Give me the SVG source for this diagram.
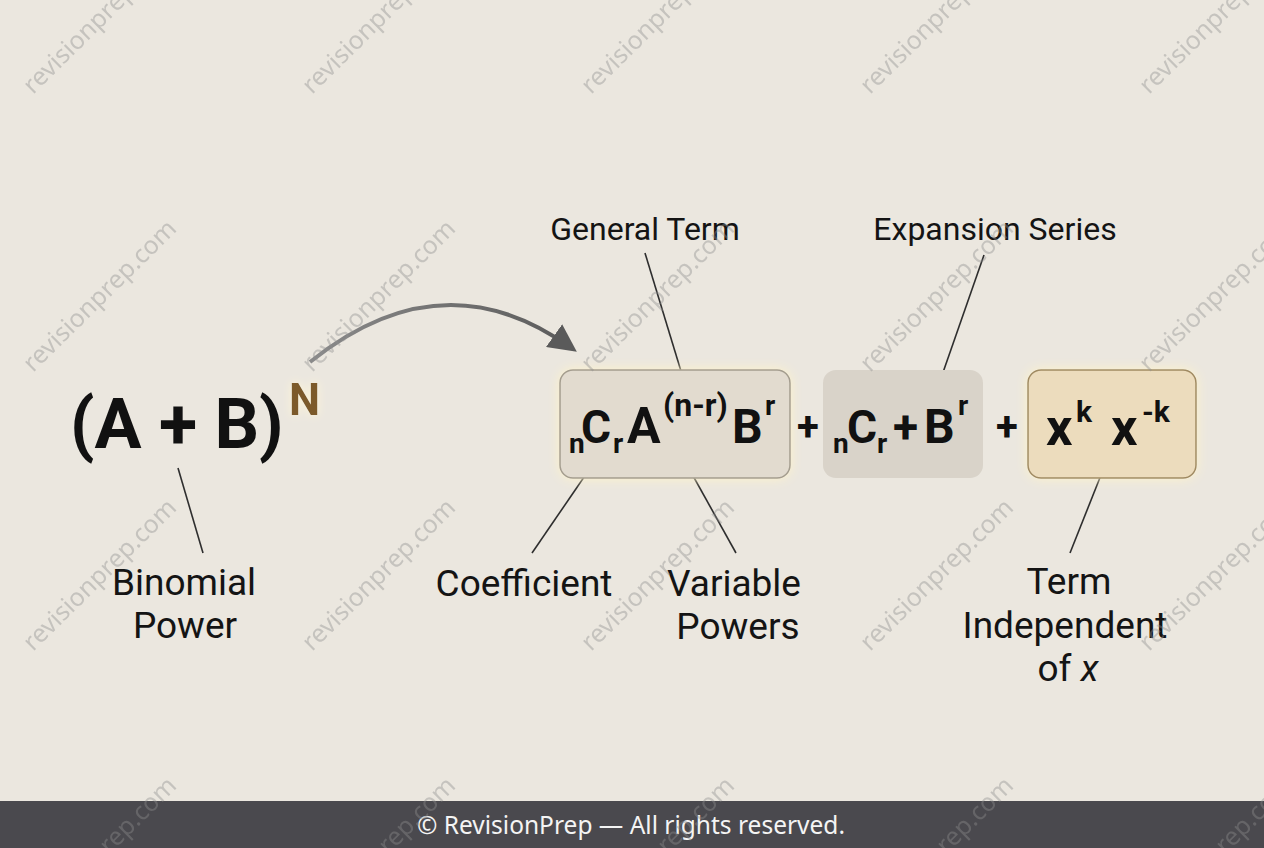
<svg xmlns="http://www.w3.org/2000/svg" width="1264" height="848" viewBox="0 0 1264 848">
<defs>
<style>
.lbl{font-family:Roboto,"Liberation Sans",sans-serif;font-size:37px;fill:#141414;text-anchor:middle}
.top{font-size:32px}
.m{font-family:Roboto,"Liberation Sans",sans-serif;font-weight:700;fill:#111}
.wm{font-family:"Noto Sans","Open Sans",sans-serif;font-size:25px;fill:#8e8e8e;opacity:0.4}
.lead{stroke:#2e2e2e;stroke-width:1.6;fill:none}
</style>
<filter id="glow" x="-20%" y="-30%" width="140%" height="160%">
<feGaussianBlur in="SourceAlpha" stdDeviation="6" result="b"/>
<feFlood flood-color="#fff3c8" flood-opacity="0.95"/>
<feComposite in2="b" operator="in" result="g"/>
<feMerge><feMergeNode in="g"/><feMergeNode in="SourceGraphic"/></feMerge>
</filter>
<filter id="glowN" x="-60%" y="-60%" width="220%" height="220%">
<feGaussianBlur in="SourceAlpha" stdDeviation="5" result="b"/>
<feFlood flood-color="#fff6d6" flood-opacity="1"/>
<feComposite in2="b" operator="in" result="g"/>
<feMerge><feMergeNode in="g"/><feMergeNode in="SourceGraphic"/></feMerge>
</filter>
<linearGradient id="arrG" x1="312" y1="0" x2="577" y2="0" gradientUnits="userSpaceOnUse">
<stop offset="0" stop-color="#8a8a8a"/>
<stop offset="1" stop-color="#5a5a5a"/>
</linearGradient>
<marker id="ah" viewBox="0 0 10 10" refX="7" refY="5" markerWidth="7" markerHeight="7" orient="auto" markerUnits="strokeWidth">
<path d="M0,0 L10,5 L0,10 Z" fill="#5a5a5a"/>
</marker>
</defs>
<rect width="1264" height="848" fill="#ebe7df"/>
<rect x="0" y="801" width="1264" height="47" fill="#4a494e"/>
<text x="631" y="834" text-anchor="middle" font-family="'Noto Sans','Open Sans',sans-serif" font-size="24.5" fill="#f4f4f4">© RevisionPrep — All rights reserved.</text>

<g id="connectors">
<path d="M310,362 Q442,256 570,347" stroke="url(#arrG)" stroke-width="4" fill="none" marker-end="url(#ah)"/>
<line class="lead" x1="178" y1="468" x2="203" y2="553"/>
<line class="lead" x1="645" y1="253" x2="684" y2="381"/>
<line class="lead" x1="984" y1="255" x2="940" y2="381"/>
<line class="lead" x1="593" y1="464" x2="532" y2="553"/>
<line class="lead" x1="687" y1="465" x2="736" y2="553"/>
<line class="lead" x1="1105" y1="465" x2="1070" y2="553"/>
</g>

<g id="binomial">
<text class="m" x="70" y="448" font-size="70">(A + B)</text>
<text class="m" x="289" y="415" font-size="44" style="fill:#7b5a2c" filter="url(#glowN)">N</text>
</g>

<g id="general-term-box">
<rect x="560" y="370" width="230" height="108" rx="13" fill="#e2dbcf" stroke="#a49d8f" stroke-width="1.5" filter="url(#glow)"/>
<text class="m" x="569" y="453" font-size="28">n</text>
<text class="m" x="581" y="443" font-size="46">C</text>
<text class="m" x="613" y="453" font-size="28">r</text>
<text class="m" x="627" y="443" font-size="50">A</text>
<text class="m" x="663" y="416" font-size="32">(n-r)</text>
<text class="m" x="732" y="443" font-size="48">B</text>
<text class="m" x="765" y="415" font-size="28">r</text>
</g>

<text class="m" x="797" y="440" font-size="40">+</text>

<g id="series-box">
<rect x="823" y="370" width="160" height="108" rx="13" fill="#d9d3c9"/>
<text class="m" x="833" y="453" font-size="28">n</text>
<text class="m" x="847" y="443" font-size="46">C</text>
<text class="m" x="877" y="453" font-size="28">r</text>
<text class="m" x="893" y="443" font-size="46">+</text>
<text class="m" x="924" y="443" font-size="48">B</text>
<text class="m" x="958" y="415" font-size="28">r</text>
</g>

<text class="m" x="996" y="440" font-size="40">+</text>

<g id="independent-box">
<rect x="1028" y="370" width="168" height="108" rx="13" fill="#ecdcbd" stroke="#a08a62" stroke-width="1.5" filter="url(#glow)"/>
<text class="m" x="1046" y="445" font-size="52">x</text>
<text class="m" x="1076" y="422" font-size="30">k</text>
<text class="m" x="1111" y="445" font-size="52">x</text>
<text class="m" x="1142" y="422" font-size="30">-k</text>
</g>

<g id="label-general-term"><text class="lbl top" x="645" y="240">General Term</text></g>
<g id="label-expansion-series"><text class="lbl top" x="995" y="240">Expansion Series</text></g>
<g id="label-binomial-power"><text class="lbl" x="184" y="595">Binomial</text><text class="lbl" x="185" y="638">Power</text></g>
<g id="label-coefficient"><text class="lbl" x="524" y="596">Coefficient</text></g>
<g id="label-variable-powers"><text class="lbl" x="734" y="596">Variable</text><text class="lbl" x="738" y="639">Powers</text></g>
<g id="label-term-independent"><text class="lbl" x="1069" y="594">Term</text><text class="lbl" x="1065" y="638">Independent</text><text class="lbl" x="1068" y="681">of <tspan font-style="italic">x</tspan></text></g>

<g id="watermarks">
<text class="wm" transform="translate(33,95) rotate(-44.6)">revisionprep.com</text>
<text class="wm" transform="translate(312,95) rotate(-44.6)">revisionprep.com</text>
<text class="wm" transform="translate(591,95) rotate(-44.6)">revisionprep.com</text>
<text class="wm" transform="translate(870,95) rotate(-44.6)">revisionprep.com</text>
<text class="wm" transform="translate(1149,95) rotate(-44.6)">revisionprep.com</text>
<text class="wm" transform="translate(33,373) rotate(-44.6)">revisionprep.com</text>
<text class="wm" transform="translate(312,373) rotate(-44.6)">revisionprep.com</text>
<text class="wm" transform="translate(591,373) rotate(-44.6)">revisionprep.com</text>
<text class="wm" transform="translate(870,373) rotate(-44.6)">revisionprep.com</text>
<text class="wm" transform="translate(1149,373) rotate(-44.6)">revisionprep.com</text>
<text class="wm" transform="translate(33,652) rotate(-44.6)">revisionprep.com</text>
<text class="wm" transform="translate(312,652) rotate(-44.6)">revisionprep.com</text>
<text class="wm" transform="translate(591,652) rotate(-44.6)">revisionprep.com</text>
<text class="wm" transform="translate(870,652) rotate(-44.6)">revisionprep.com</text>
<text class="wm" transform="translate(1149,652) rotate(-44.6)">revisionprep.com</text>
<text class="wm" transform="translate(33,930) rotate(-44.6)">revisionprep.com</text>
<text class="wm" transform="translate(312,930) rotate(-44.6)">revisionprep.com</text>
<text class="wm" transform="translate(591,930) rotate(-44.6)">revisionprep.com</text>
<text class="wm" transform="translate(870,930) rotate(-44.6)">revisionprep.com</text>
<text class="wm" transform="translate(1149,930) rotate(-44.6)">revisionprep.com</text>
</g>
</svg>
